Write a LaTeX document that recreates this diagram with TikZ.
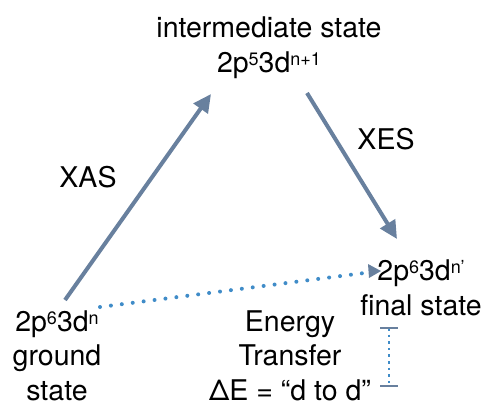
\documentclass[tikz,border=0pt]{standalone}
\usepackage{fontspec}
\setmainfont{TeX Gyre Heros}
\usetikzlibrary{arrows.meta}
\definecolor{arrcol}{RGB}{104,128,158}
\definecolor{dotcol}{RGB}{64,140,200}
\newcommand{\supx}[1]{\raisebox{7pt}{\fontsize{18}{18}\selectfont #1}}
\begin{document}
\begin{tikzpicture}[x=1pt,y=-1pt,
  lbl/.style={inner sep=0pt, align=center, anchor=base,
    font=\fontsize{28.5}{34.5}\selectfont},
  arr/.style={draw=arrcol, line width=4pt,
    -{Triangle[length=18pt,width=17pt]}, color=arrcol},
  dotarr/.style={draw=dotcol, line width=4pt, line cap=round,
    dash pattern=on 0pt off 11pt},
  bardot/.style={draw=dotcol, line width=2.6pt, dash pattern=on 2.6pt off 4pt},
  barcap/.style={draw=arrcol, line width=2.6pt}]
\useasboundingbox (0,0) rectangle (487,408);
\node[lbl] (int) at (269,72) {intermediate state\\2p\supx{5}3d\supx{n+1}};
\node[lbl] (gs) at (57,400) {2p\supx{6}3d\supx{n}\\ground\\state};
\node[lbl] (fs) at (421,315) {2p\supx{6}3d\supx{n’}\\final state};
\node[lbl] (et) at (290,400) {Energy\\Transfer\\ΔE = “d to d”};
\node[lbl] (xas) at (88,187) {XAS};
\node[lbl] (xes) at (386,149) {XES};
\coordinate (xasS) at (65,300);
\coordinate (xasE) at (211,94);
\coordinate (xesS) at (307,93);
\coordinate (xesE) at (397,239);
\coordinate (dS) at (100,307);
\coordinate (dE) at (372,272);
\coordinate (dTip) at (381,271);
\coordinate (bT) at (389,328);
\coordinate (bB) at (389,386);
\draw[arr] (xasS) -- (xasE);
\draw[arr] (xesS) -- (xesE);
\draw[dotarr] (dS) -- (dE);
\fill[arrcol] (dTip) -- ++(-13,-7) -- ++(1,14) -- cycle;
\draw[bardot] (bT) -- (bB);
\draw[barcap] ([xshift=-9pt]bT) -- ([xshift=9pt]bT);
\draw[barcap] ([xshift=-9pt]bB) -- ([xshift=9pt]bB);
\end{tikzpicture}
\end{document}
